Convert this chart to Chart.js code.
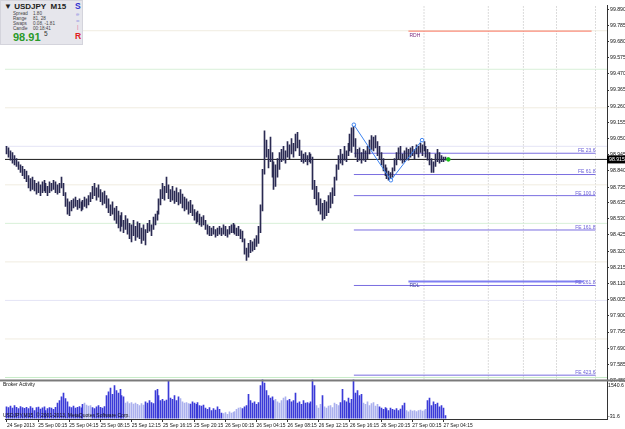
<!DOCTYPE html>
<html>
<head>
<meta charset="utf-8">
<script src="https://cdn.jsdelivr.net/npm/chart.js@4.4.0/dist/chart.umd.min.js"></script>
<style>
html, body { margin: 0; padding: 0; background: #fff; }
#wrap { position: relative; width: 625px; height: 429px; overflow: hidden; }
#info { position: absolute; left: 0; top: 0; width: 81px; height: 43px; background: #e6e6ec; border: 1px solid #d4d4dc; font-family: 'Liberation Sans', Arial, sans-serif; color: #222; }
#info span { position: absolute; white-space: nowrap; line-height: 1; }
.sm { font-size: 4.6px; color: #444; }
</style>
</head>
<body>
<div id="wrap">
  <canvas id="c" width="625" height="429"></canvas>
  <div id="info">
    <span style="left:3px;top:2px;font-size:8px;font-weight:bold;">&#9660; USDJPY&nbsp;&nbsp;M15</span>
    <span class="sm" style="left:12px;top:10.5px;">Spread</span><span class="sm" style="left:32px;top:10.5px;">1.80</span>
    <span class="sm" style="left:12px;top:15.5px;">Range</span><span class="sm" style="left:32px;top:15.5px;">81, 28</span>
    <span class="sm" style="left:12px;top:20.5px;">Swaps</span><span class="sm" style="left:32px;top:20.5px;">0.08, -1.81</span>
    <span class="sm" style="left:12px;top:25.5px;">Candle</span><span class="sm" style="left:32px;top:25.5px;">00:18:41</span>
    <span style="left:12px;top:31px;font-size:11px;font-weight:bold;color:#2a9a2a;">98.91</span>
    <span style="left:43px;top:30px;font-size:6.5px;color:#333;">5</span>
    <span style="left:74px;top:1px;font-size:8.5px;font-weight:bold;color:#3030d0;">S</span>
    <span style="left:75px;top:10px;font-size:6px;color:#9a9ae4;">e</span>
    <span style="left:75px;top:17px;font-size:6px;color:#9a9ae4;">=</span>
    <span style="left:76px;top:23px;font-size:6px;color:#e070a0;">|</span>
    <span style="left:74px;top:31px;font-size:8.5px;font-weight:bold;color:#e02020;">R</span>
  </div>
</div>
<script>
// price bars (M15), bar 0 = 24 Sep 20:15
const highs = [
  99.00, 98.99, 98.97, 98.96, 98.94, 98.92, 98.90, 98.88, 98.87, 98.85,
  98.84, 98.81, 98.79, 98.80, 98.78, 98.76, 98.77, 98.75, 98.77, 98.78,
  98.76, 98.74, 98.77, 98.76, 98.78, 98.77, 98.75, 98.76, 98.80, 98.76,
  98.70, 98.66, 98.64, 98.65, 98.66, 98.67, 98.65, 98.66, 98.64, 98.65,
  98.67, 98.66, 98.68, 98.70, 98.74, 98.76, 98.73, 98.75, 98.72, 98.70,
  98.71, 98.68, 98.66, 98.62, 98.64, 98.60, 98.61, 98.58, 98.55, 98.57,
  98.52, 98.55, 98.53, 98.50, 98.49, 98.52, 98.48, 98.51, 98.50, 98.47,
  98.49, 98.46, 98.50, 98.52, 98.49, 98.54, 98.56, 98.58, 98.66, 98.72,
  98.76, 98.74, 98.80, 98.75, 98.72, 98.74, 98.71, 98.73, 98.70, 98.72,
  98.69, 98.67, 98.66, 98.64, 98.65, 98.62, 98.59, 98.57, 98.58, 98.56,
  98.54, 98.55, 98.52, 98.49, 98.48, 98.47, 98.48, 98.46, 98.47, 98.48,
  98.47, 98.49, 98.48, 98.46, 98.48, 98.49, 98.50, 98.49, 98.47, 98.48,
  98.46, 98.45, 98.40, 98.34, 98.37, 98.39, 98.38, 98.40, 98.42, 98.48,
  98.62, 98.85, 99.10, 99.04, 98.98, 99.06, 98.96, 98.90, 98.88, 98.92,
  98.96, 98.98, 99.00, 98.97, 99.03, 99.01, 99.05, 99.02, 99.08, 99.09,
  99.04, 98.97, 98.95, 98.96, 98.94, 98.96, 98.95, 98.93, 98.78, 98.74,
  98.70, 98.66, 98.63, 98.65, 98.64, 98.68, 98.70, 98.73, 98.80, 98.88,
  98.94, 98.98, 98.95, 99.00, 98.97, 99.02, 99.08, 99.12, 99.14, 99.05,
  98.98, 98.99, 98.96, 98.98, 98.97, 99.00, 99.04, 99.07, 99.06, 99.07,
  99.03, 99.00, 98.96, 98.92, 98.88, 98.86, 98.84, 98.83, 98.86, 98.92,
  98.96, 98.99, 99.00, 98.95, 98.97, 98.99, 98.98, 98.99, 99.00, 98.98,
  99.01, 99.00, 99.02, 99.01, 99.03, 99.00, 98.98, 98.96, 98.92, 98.90,
  98.95, 98.98, 98.96, 98.94, 98.93, 98.93
];
const lows = [
  98.95, 98.93, 98.91, 98.89, 98.88, 98.87, 98.85, 98.83, 98.81, 98.79,
  98.77, 98.73, 98.71, 98.72, 98.71, 98.69, 98.70, 98.68, 98.70, 98.71,
  98.70, 98.68, 98.70, 98.71, 98.72, 98.70, 98.69, 98.70, 98.73, 98.68,
  98.61, 98.56, 98.55, 98.58, 98.60, 98.61, 98.59, 98.60, 98.58, 98.59,
  98.61, 98.60, 98.62, 98.64, 98.66, 98.68, 98.65, 98.67, 98.64, 98.62,
  98.63, 98.60, 98.57, 98.55, 98.56, 98.52, 98.50, 98.47, 98.45, 98.48,
  98.44, 98.46, 98.43, 98.40, 98.38, 98.42, 98.39, 98.41, 98.40, 98.37,
  98.39, 98.36, 98.44, 98.45, 98.42, 98.46, 98.49, 98.52, 98.56, 98.62,
  98.66, 98.65, 98.70, 98.66, 98.64, 98.65, 98.63, 98.64, 98.62, 98.63,
  98.60, 98.58, 98.59, 98.56, 98.57, 98.55, 98.52, 98.50, 98.51, 98.49,
  98.48, 98.49, 98.46, 98.43, 98.42, 98.42, 98.43, 98.41, 98.42, 98.43,
  98.42, 98.43, 98.42, 98.41, 98.43, 98.44, 98.44, 98.43, 98.42, 98.42,
  98.40, 98.38, 98.30, 98.26, 98.28, 98.31, 98.32, 98.33, 98.35, 98.37,
  98.44, 98.58, 98.82, 98.93, 98.86, 98.90, 98.80, 98.72, 98.74, 98.80,
  98.85, 98.90, 98.91, 98.89, 98.93, 98.92, 98.95, 98.93, 98.97, 98.99,
  98.94, 98.90, 98.89, 98.90, 98.88, 98.90, 98.89, 98.72, 98.66, 98.62,
  98.58, 98.56, 98.52, 98.53, 98.55, 98.57, 98.60, 98.63, 98.68, 98.78,
  98.85, 98.89, 98.88, 98.91, 98.90, 98.94, 98.97, 98.96, 99.00, 98.93,
  98.90, 98.91, 98.89, 98.91, 98.90, 98.92, 98.95, 98.98, 98.97, 98.99,
  98.94, 98.92, 98.88, 98.84, 98.81, 98.79, 98.78, 98.78, 98.80, 98.84,
  98.88, 98.92, 98.91, 98.89, 98.90, 98.92, 98.91, 98.93, 98.94, 98.92,
  98.95, 98.93, 98.96, 98.94, 98.97, 98.93, 98.91, 98.88, 98.83, 98.83,
  98.87, 98.90, 98.89, 98.90, 98.90, 98.91
];
// broker activity per bar
const volumes = [
  450, 420, 480, 400, 500, 430, 380, 460, 420, 390,
  430, 380, 460, 400, 300, 420, 440, 360, 410, 450, 300, 380, 420, 400, 350, 430,
  600, 700, 850, 1000, 780, 650,
  450, 420, 480, 400, 430, 460, 410,
  550, 600, 520, 480, 500,
  420, 380, 450, 500, 430, 400, 460,
  900, 1050, 1200, 950, 1300, 1100, 1000, 1150, 900, 850,
  600, 650, 580, 620, 560, 600, 550, 500, 580, 520,
  650, 600, 700, 620, 580,
  1100, 1150, 900,
  700, 750, 680, 720,
  1500,
  800, 750, 900, 700, 850, 780, 650, 600, 620, 580, 560,
  650, 600, 550, 620, 500, 480, 520,
  400, 350, 420, 300, 380, 320, 450, 350,
  200, 180, 220, 150, 250, 200, 230, 260,
  350, 400, 420, 380, 450, 500,
  950,
  700, 600, 650, 550, 620,
  1300, 1570, 1400, 1100,
  900, 800, 850, 700, 750, 650, 600, 700,
  800, 850, 700, 750, 650, 700,
  1000,
  600, 650, 550, 700, 600, 620, 580, 650,
  1540, 1300,
  500, 400, 550,
  900,
  450, 400, 480, 500, 420, 600, 550, 500, 620,
  1150,
  700, 650, 800, 600, 750,
  1540,
  1000, 1100, 900, 950,
  600, 550, 650, 500, 580, 620, 480, 550,
  450, 400, 350, 420, 380, 300, 400, 350, 320, 380, 300, 360,
  500, 600,
  300, 250, 320, 280, 300, 260, 300, 320, 280, 300, 350,
  700, 800,
  500, 650, 550, 600, 450,
  500, 400, 100
];
// bars whose activity column is drawn in the pale shade
const paleVolumeBars = [
  40, 41, 42, 43, 61, 62, 63, 64, 65, 66, 67, 68, 69, 70, 89, 90, 91, 92, 93,
  111, 112, 113, 114, 115, 116, 117, 118, 119, 120, 138, 139, 140, 141, 142, 143,
  159, 160, 161, 163, 164, 165, 166, 167, 168, 169, 170, 183, 184, 185, 186, 187, 188, 189, 190,
  205, 206, 207, 208, 209, 210, 211, 212, 213, 214, 215
];

const timeTickBars = [0, 16, 32, 48, 64, 80, 96, 112, 128, 144, 160, 176, 192, 208, 224];
const timeLabels = ['24 Sep 2013', '25 Sep 00:15', '25 Sep 04:15', '25 Sep 08:15', '25 Sep 12:15',
  '25 Sep 16:15', '25 Sep 20:15', '26 Sep 00:15', '26 Sep 04:15', '26 Sep 08:15', '26 Sep 12:15',
  '26 Sep 16:15', '26 Sep 20:15', '27 Sep 00:15', '27 Sep 04:15'];
const priceTicks = [99.890, 99.785, 99.680, 99.575, 99.470, 99.365, 99.260, 99.155, 99.050, 98.945,
  98.840, 98.735, 98.635, 98.530, 98.425, 98.320, 98.215, 98.110, 98.005, 97.900, 97.795, 97.690,
  97.585, 97.480];
const volumeTicks = [1540.6, -31.6];

const bidPrice = 98.915;
const quarterLevels = [99.75, 99.50, 99.25, 99.00, 98.75, 98.50, 98.25, 98.00, 97.75, 97.50];
const quarterColors = ['#f0ece0', '#d8f0d8', '#f0ece0', '#e4e4f6', '#f0ece0', '#d8f0d8', '#f0ece0', '#e4e4f6', '#f0ece0', '#c8ecc8'];
const feNames = ['FE 23.6', 'FE 61.8', 'FE 100.0', 'FE 161.8', 'FE 261.8', 'FE 423.6'];
const feLevels = [98.955, 98.817, 98.680, 98.457, 98.097, 97.515];
const zigzagBars = [178, 197, 213];
const zigzagPrices = [99.140, 98.780, 99.040];
const rdhPrice = 99.75, rdlPrice = 98.122;
const vLineBars = [214, 247, 265, 282, 302];

const X_MIN = -1.02, X_MAX = 307.9;
const Y_MIN = 97.487, Y_MAX = 99.917;
const V_MIN = -31.6, V_MAX = 1540.6;

function hLine(y, x0, x1, color, width, extra) {
  return Object.assign({
    type: 'line', yAxisID: 'y', data: [{x: x0, y: y}, {x: x1, y: y}],
    borderColor: color, borderWidth: width, pointRadius: 0, order: 5
  }, extra || {});
}

const datasets = [];
quarterLevels.forEach((p, i) => datasets.push(hLine(p, X_MIN, X_MAX, quarterColors[i], 1)));
vLineBars.forEach(b => datasets.push({
  type: 'line', yAxisID: 'y', data: [{x: b, y: Y_MIN}, {x: b, y: Y_MAX}],
  borderColor: '#b8b8b8', borderWidth: 1, borderDash: [1, 2], pointRadius: 0, order: 6
}));
feLevels.forEach(p => datasets.push(hLine(p, 178, 302, '#7a6ee0', 1)));
datasets.push(hLine(rdhPrice, 206, 300, '#ff2a10', 1.5));
datasets.push(hLine(rdlPrice, 206, 296, '#7e7ef2', 2));
datasets.push(hLine(bidPrice, X_MIN, X_MAX, '#1a1a1a', 1, {order: 3}));
datasets.push({
  type: 'bar', label: 'USDJPY', yAxisID: 'y',
  data: highs.map((h, i) => ({x: i, y: [lows[i], h]})),
  backgroundColor: '#2a2a52', barThickness: 1, grouped: false, order: 2
});
datasets.push({
  type: 'line', yAxisID: 'y',
  data: zigzagBars.map((b, i) => ({x: b, y: zigzagPrices[i]})),
  borderColor: '#3c82f0', borderWidth: 1, pointRadius: 1.8, pointBackgroundColor: '#ffffff',
  pointBorderColor: '#3c82f0', pointBorderWidth: 1, order: 1
});
datasets.push({
  type: 'line', yAxisID: 'y', data: [{x: 226.5, y: bidPrice}],
  pointRadius: 1.8, pointBackgroundColor: '#10c010', pointBorderColor: '#10c010', showLine: false, order: 0
});
datasets.push({
  type: 'bar', label: 'Broker Activity', yAxisID: 'v',
  data: volumes.map((v, i) => ({x: i, y: v})),
  backgroundColor: c => paleVolumeBars.includes(c.dataIndex) ? '#aab0ee' : '#3a3ad8',
  barThickness: 1, grouped: false, order: 2
});

const tickFont = {family: 'Liberation Sans', size: 5.2};
const timeFont = {family: 'Liberation Sans', size: 4.9};

// snap 1px bars onto whole pixels so they stay sharp
const crisp = {
  id: 'crisp',
  afterDatasetsUpdate(chart) {
    chart.data.datasets.forEach((ds, i) => {
      if (ds.type !== 'bar') return;
      chart.getDatasetMeta(i).data.forEach(el => { el.x = Math.floor(el.x) + 0.5; });
    });
  }
};

const overlay = {
  id: 'overlay',
  afterDatasetsDraw(chart) {
    const c = chart.ctx, y = chart.scales.y, x = chart.scales.x, v = chart.scales.v;
    c.save();
    // window separator
    c.fillStyle = '#7a7a7a';
    c.fillRect(0, y.bottom, chart.width, 2);
    // fibo expansion labels
    c.font = '5px Liberation Sans';
    c.fillStyle = '#6a5ed8';
    c.textAlign = 'right';
    c.textBaseline = 'bottom';
    feLevels.forEach((p, i) => c.fillText(feNames[i], x.getPixelForValue(302), y.getPixelForValue(p)));
    c.textAlign = 'left';
    c.textBaseline = 'top';
    c.fillStyle = '#803080';
    c.fillText('RDH', x.getPixelForValue(206) + 1, y.getPixelForValue(rdhPrice) + 2);
    c.fillStyle = '#4040a0';
    c.fillText('RDL', x.getPixelForValue(206) + 1, y.getPixelForValue(rdlPrice) + 2);
    // subwindow captions
    c.fillStyle = '#111';
    c.fillText('Broker Activity', 3, v.top + 3);
    c.textBaseline = 'bottom';
    c.fillText('USDJPY,M15  \u00a9 2001-2013, MetaQuotes Software Corp.', 3, v.bottom - 1);
    // bid price box
    const py = y.getPixelForValue(bidPrice);
    c.fillStyle = '#000';
    c.fillRect(y.left, py - 4, chart.width - y.left, 8);
    c.fillStyle = '#fff';
    c.textBaseline = 'middle';
    c.font = '5.2px Liberation Sans';
    c.fillText(bidPrice.toFixed(3), y.left + 2, py);
    c.restore();
  }
};

function noPad(s) { s.paddingTop = 0; s.paddingBottom = 0; s.paddingLeft = 0; s.paddingRight = 0; }

new Chart(document.getElementById('c'), {
  type: 'bar',
  data: {datasets: datasets},
  options: {
    responsive: false,
    animation: false,
    events: [],
    layout: {padding: 0},
    plugins: {legend: {display: false}, tooltip: {enabled: false}},
    scales: {
      x: {
        type: 'linear', min: X_MIN, max: X_MAX, offset: false,
        afterBuildTicks: s => { s.ticks = timeTickBars.map(b => ({value: b})); },
        afterFit: s => { s.height = 10; noPad(s); },
        ticks: {
          autoSkip: false, maxRotation: 0, align: 'start', padding: 1, color: '#111', font: timeFont,
          callback: val => timeLabels[timeTickBars.indexOf(val)]
        },
        grid: {offset: false, drawOnChartArea: false, tickLength: 3, color: '#333'},
        border: {color: '#333'}
      },
      y: {
        position: 'right', stack: 'win', stackWeight: 379, min: Y_MIN, max: Y_MAX,
        afterBuildTicks: s => { s.ticks = priceTicks.map(p => ({value: p})); },
        afterFit: s => { s.width = 18; noPad(s); },
        ticks: {autoSkip: false, padding: 1, color: '#111', font: tickFont, callback: val => val.toFixed(3)},
        grid: {drawOnChartArea: false, tickLength: 2, color: '#333'},
        border: {color: '#333'}
      },
      v: {
        position: 'right', stack: 'win', stackWeight: 40, min: V_MIN, max: V_MAX,
        // the two scale captions sit just inside the subwindow edges
        afterBuildTicks: s => {
          const span = V_MAX - V_MIN;
          s.ticks = [{value: V_MAX - span * 0.15}, {value: V_MIN + span * 0.07}];
        },
        afterFit: s => { s.width = 18; noPad(s); },
        ticks: {autoSkip: false, padding: 1, color: '#111', font: tickFont, callback: (val, i) => volumeTicks[i].toFixed(1)},
        grid: {drawOnChartArea: false, drawTicks: false, tickLength: 2, color: '#333'},
        border: {color: '#333'}
      }
    }
  },
  plugins: [crisp, overlay]
});
</script>
</body>
</html>
